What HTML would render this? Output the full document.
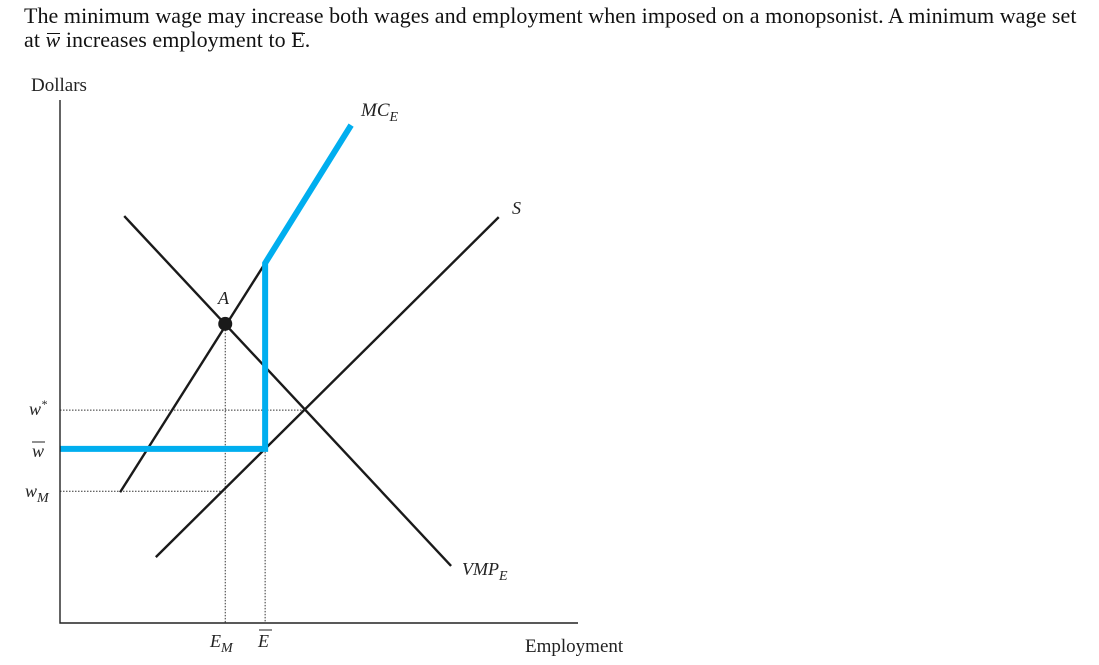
<!DOCTYPE html>
<html><head><meta charset="utf-8"><style>
html,body{margin:0;padding:0;background:#fff;width:1099px;height:665px;overflow:hidden}
#cap{position:absolute;left:24px;top:4px;width:1075px;font:22px "Liberation Serif",serif;line-height:24px;color:#111;white-space:nowrap;letter-spacing:0.05px}
.ov{position:relative}
.ov::before{content:"";position:absolute;left:1px;right:0;top:6px;border-top:1.3px solid #111}
svg{position:absolute;left:0;top:0}
</style></head><body>
<div id="cap">The minimum wage may increase both wages and employment when imposed on a monopsonist. A minimum wage set<br>at <i class="ov">w</i> increases employment to <span class="ov">E</span>.</div>
<svg id="chart" width="1099" height="665"></svg>
<script>
// data units: employment 0..100, dollars 0..100
const mcPts=[[11.6,25.0],[39.6,68.8]];
const mcBluePts=[[39.6,68.8],[56.2,95.2]];
const sPts=[[18.5,12.6],[84.7,77.6]];
const vmpPts=[[12.4,77.8],[75.5,10.9]];
const pointA=[31.9,57.2];
const wageLevels=[40.7,33.3,25.2]; // w*, wbar, wM
const empLevels=[31.9,39.6]; // EM, Ebar
const wStarEnd=[47.5];
const xs=v=>60+v*5.18, ys=v=>623-v*5.23;
const svg=document.getElementById('chart');
const NS='http://www.w3.org/2000/svg';
function mk(t,a,name){const e=document.createElementNS(NS,t);for(const k in a)e.setAttribute(k,a[k]);


svg.appendChild(e);return e;}
function line(p,c,w,name,dash){const a={x1:xs(p[0][0]),y1:ys(p[0][1]),x2:xs(p[1][0]),y2:ys(p[1][1]),stroke:c,'stroke-width':w};if(dash)a['stroke-dasharray']=dash;return mk('line',a,name);}
function txt(x,y,s,name,it,size){const e=mk('text',{x:x,y:y,'font-family':'Liberation Serif, serif','font-size':size||17,'font-style':it?'italic':'normal',fill:'#222'},name);e.innerHTML=s;return e;}
const dt='1.5,1.5';
line([[0,wageLevels[0]],[wStarEnd[0],wageLevels[0]]],'#333',1,'w-star-guide',dt);
line([[0,wageLevels[2]],[empLevels[0],wageLevels[2]]],'#333',1,'wm-guide',dt);
line([[empLevels[0],pointA[1]],[empLevels[0],0]],'#333',1,'em-guide',dt);
line([[empLevels[1],wageLevels[1]],[empLevels[1],0]],'#333',1,'ebar-guide',dt);
line(sPts,'#1a1a1a',2.4,'supply-curve');
line(vmpPts,'#1a1a1a',2.4,'vmp-curve');
line(mcPts,'#1a1a1a',2.4,'mc-curve');
const pl=[[0,wageLevels[1]],[empLevels[1],wageLevels[1]],mcBluePts[0],mcBluePts[1]];
mk('polyline',{points:pl.map(p=>xs(p[0])+','+ys(p[1])).join(' '),fill:'none',stroke:'#00aeef','stroke-width':6,'stroke-linejoin':'miter'},'min-wage-mc-curve');
mk('circle',{cx:xs(pointA[0]),cy:ys(pointA[1]),r:7,fill:'#1a1a1a'},'point-a');
mk('polyline',{points:'60,100 60,623 578,623',fill:'none',stroke:'#222','stroke-width':1.4},'axes');
txt(31,91,'Dollars','y-axis-title',false,19);
txt(525,652,'Employment','x-axis-title',false,19);
txt(218,304,'A','label-a',true,18);
txt(361,116,'MC<tspan font-size="14" dy="5">E</tspan>','label-mce',true,19);
txt(512,214,'S','label-s',true,18);
txt(462,575,'VMP<tspan font-size="14" dy="5">E</tspan>','label-vmpe',true,18);
txt(29,415,'w<tspan font-size="12" dy="-7">*</tspan>','label-w-star',true,18);
txt(32,457,'w','label-w-bar',true,18);
mk('line',{x1:32,y1:442,x2:45,y2:442,stroke:'#222','stroke-width':1},'w-bar-overline');
txt(25,497,'w<tspan font-size="14" dy="5">M</tspan>','label-wm',true,18);
txt(210,647,'E<tspan font-size="14" dy="5">M</tspan>','label-em',true,18);
txt(258,647,'E','label-ebar',true,18);
mk('line',{x1:259,y1:630,x2:272,y2:630,stroke:'#222','stroke-width':1},'e-bar-overline');
</script>
</body></html>
